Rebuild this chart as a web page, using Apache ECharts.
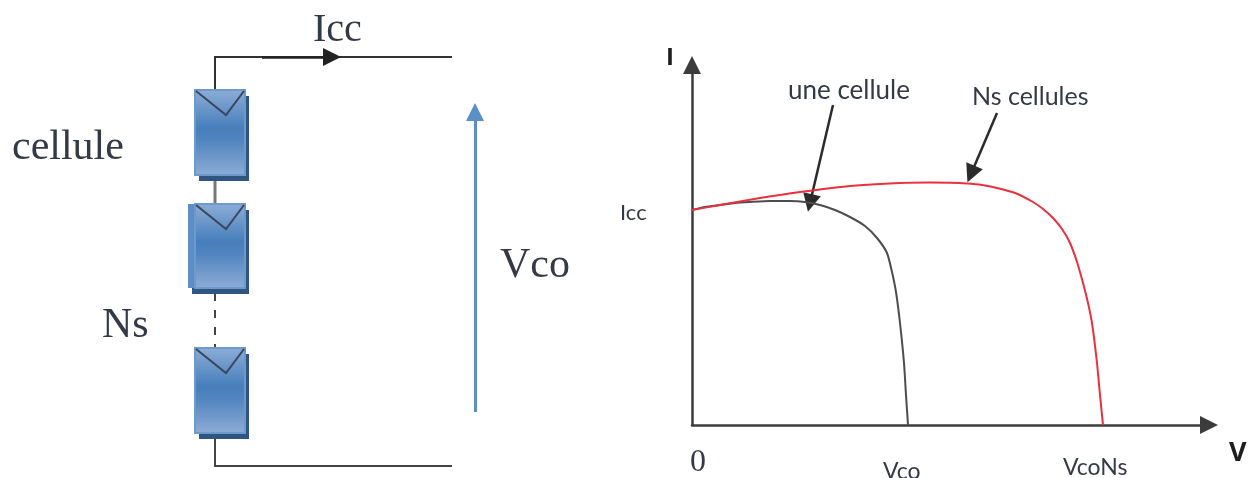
<!DOCTYPE html>
<html lang="en">
<head>
    <meta charset="UTF-8">
    <script src="https://cdn.jsdelivr.net/npm/echarts@6/dist/echarts.min.js"></script>
    <title>Cellules en serie</title>
    <style>
        html, body { margin: 0; padding: 0; background: #fff; }
        #main { width: 1254px; height: 478px; }
    </style>
</head>
<body>
<div id="main"></div>
<script type="text/javascript">
    // I(V) curves. V and I in the units of the right hand axes
    var uneCelluleV = [0, 13, 28, 43, 58, 78, 98, 113, 128, 143, 158, 173, 185, 195, 200, 204, 208, 212, 214, 216];
    var uneCelluleI = [215, 218, 220, 222, 223, 224, 224, 223, 220, 215, 208, 199, 187, 172, 153, 133, 102, 62, 30, 0];
    var nsCellulesV = [0, 28, 68, 108, 158, 208, 238, 258, 275, 290, 305, 323, 341, 351, 361, 370, 378, 385, 391, 396, 400, 405, 408, 411];
    var nsCellulesI = [215, 220, 227, 233, 239, 242, 242.5, 242.3, 241.5, 240, 237, 232, 223, 216, 207, 196, 182, 163, 142, 122, 102, 62, 30, 0];

    // circuit diagram, in page units
    var wireTop = [[215, 90], [215, 57], [452, 57]];
    var wireBetween = [[215, 175], [215, 203]];
    var wireDashes = [[215, 293], [215, 348]];
    var wireBottom = [[215, 438], [215, 466], [452, 466]];
    var currentArrow = [[262, 57], [332, 57]];
    var voltageArrow = [[475, 412], [475, 112]];
    var cells = [[195, 90, 245, 175, 195], [195, 204, 245, 288, 188], [195, 348, 245, 433, 195]];

    // annotation arrows, in page units
    var arrowUneCellule = [[833, 105], [810, 203]];
    var arrowNsCellules = [[997, 113], [971, 174]];

    var axisColor = '#3c3c3c';
    var serif = '"Liberation Serif", serif';
    var sans = 'Lato, sans-serif';
    var bold = '"Open Sans", sans-serif';

    function text(x, y, str, size, font, color, weight) {
        return {
            type: 'text', x: x, y: y,
            style: { text: str, fontSize: size, fontFamily: font, fill: color || '#333a45', fontWeight: weight || 'normal', textVerticalAlign: 'middle' }
        };
    }

    function wire(coords, color, width, dash) {
        return { coords: coords, lineStyle: { color: color || '#333', width: width || 2, type: dash || 'solid', opacity: 1 } };
    }

    function renderCell(params, api) {
        var cell = cells[params.dataIndex];
        var tl = api.coord([cell[0], cell[1]]);
        var br = api.coord([cell[2], cell[3]]);
        var ghost = api.coord([cell[4], cell[1]]);
        var w = br[0] - tl[0], h = br[1] - tl[1];
        var children = [{
            type: 'rect',
            shape: { x: ghost[0] + 4, y: tl[1] + 6, width: br[0] - ghost[0], height: h },
            style: { fill: '#2f5581' }
        }];
        if (ghost[0] < tl[0]) {
            children.push({
                type: 'rect',
                shape: { x: ghost[0], y: tl[1], width: tl[0] - ghost[0] + 4, height: h },
                style: { fill: '#5c8ec6' }
            });
        }
        children.push({
            type: 'rect',
            shape: { x: tl[0], y: tl[1], width: w, height: h },
            style: {
                stroke: '#6d99cd', lineWidth: 2,
                fill: new echarts.graphic.LinearGradient(0, 0, 0, 1, [
                    { offset: 0, color: '#8eadd6' },
                    { offset: 0.45, color: '#467fbc' },
                    { offset: 0.6, color: '#5285bf' },
                    { offset: 1, color: '#8eadd6' }
                ])
            }
        }, {
            type: 'polyline',
            shape: { points: [[tl[0] + 1, tl[1] + 1], [tl[0] + 31, tl[1] + 25], [br[0] - 1, tl[1] + 1]] },
            style: { stroke: '#37475c', lineWidth: 2, fill: null }
        });
        return { type: 'group', children: children };
    }

    var chart = echarts.init(document.getElementById('main'));
    chart.setOption({
        animation: false,
        backgroundColor: '#fff',
        grid: [
            { left: 692, top: 65, width: 517, height: 360 },
            { left: 0, top: 0, right: 0, bottom: 0 }
        ],
        xAxis: [{
            type: 'value', gridIndex: 0, min: 0, max: 517,
            splitLine: { show: false }, axisTick: { show: false }, axisLabel: { show: false },
            axisLine: { onZero: false, symbol: ['none', 'triangle'], symbolSize: [18, 18], lineStyle: { color: axisColor, width: 2.5 } }
        }, {
            type: 'value', gridIndex: 1, min: 0, max: 1254, show: false
        }],
        yAxis: [{
            type: 'value', gridIndex: 0, min: 0, max: 360,
            splitLine: { show: false }, axisTick: { show: false }, axisLabel: { show: false },
            axisLine: { onZero: false, symbol: ['none', 'triangle'], symbolSize: [18, 18], lineStyle: { color: axisColor, width: 2.5 } }
        }, {
            type: 'value', gridIndex: 1, min: 0, max: 478, inverse: true, show: false
        }],
        series: [{
            name: 'une cellule', type: 'line', xAxisIndex: 0, yAxisIndex: 0, smooth: 0.2, showSymbol: false,
            lineStyle: { color: '#4d4d4d', width: 2 },
            data: uneCelluleV.map(function (v, i) { return [v, uneCelluleI[i]]; })
        }, {
            name: 'Ns cellules', type: 'line', xAxisIndex: 0, yAxisIndex: 0, smooth: 0.2, showSymbol: false,
            lineStyle: { color: '#e9303f', width: 2 },
            data: nsCellulesV.map(function (v, i) { return [v, nsCellulesI[i]]; })
        }, {
            type: 'lines', coordinateSystem: 'cartesian2d', xAxisIndex: 1, yAxisIndex: 1, polyline: true, silent: true,
            symbol: 'none',
            data: [wire(wireTop), wire(wireBetween, '#777', 3), wire(wireDashes, '#444', 2, [8, 9]), wire(wireBottom, '#444')]
        }, {
            type: 'lines', coordinateSystem: 'cartesian2d', xAxisIndex: 1, yAxisIndex: 1, silent: true,
            symbol: ['none', 'triangle'], symbolSize: 18,
            data: [
                wire(currentArrow, '#222', 2.5),
                wire(voltageArrow, '#5b8fc6', 3),
                wire(arrowUneCellule, '#2b2b2b', 2.5),
                wire(arrowNsCellules, '#2b2b2b', 2.5)
            ]
        }, {
            type: 'custom', xAxisIndex: 1, yAxisIndex: 1, silent: true, z: 5,
            renderItem: renderCell,
            data: cells
        }],
        graphic: [
            text(313, 30, 'Icc', 40, serif),
            text(12, 148, 'cellule', 42, serif),
            text(500, 266, 'Vco', 42, serif),
            text(102, 326, 'Ns', 42, serif),
            text(666, 58, 'I', 24, bold, '#1d1d1d', 'bold'),
            text(788, 91, 'une cellule', 26, sans),
            text(972, 97, 'Ns cellules', 25, sans),
            text(620, 213, 'Icc', 22, sans),
            text(690, 463, '0', 32, serif),
            text(883, 472, 'Vco', 23, sans),
            text(1063, 468, 'VcoNs', 23, sans),
            text(1229, 453, 'V', 27, bold, '#1d1d1d', 'bold')
        ]
    });
</script>
</body>
</html>
